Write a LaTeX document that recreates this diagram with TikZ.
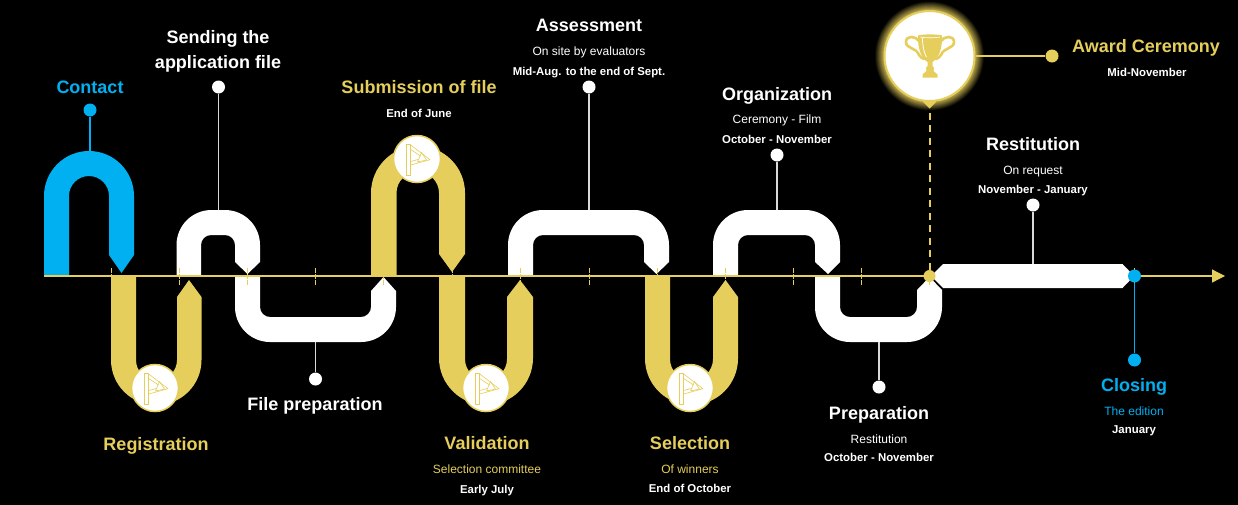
\documentclass[tikz,border=0pt]{standalone}
\usepackage{fontspec}
\setmainfont{Liberation Sans}
\usetikzlibrary{arrows.meta}
\definecolor{gold}{HTML}{E5CE5B}
\definecolor{sky}{HTML}{00B0F0}
\tikzset{
  title/.style={font=\fontsize{18}{20}\selectfont\bfseries,inner sep=0pt,anchor=base,yshift=-6.5pt},
  sub/.style={font=\fontsize{12}{13}\selectfont,inner sep=0pt,text=white,anchor=base,yshift=-4.5pt},
  subb/.style={font=\fontsize{11.4}{13}\selectfont\bfseries,inner sep=0pt,text=white,anchor=base,yshift=-4.2pt},
  dot/.style={circle,inner sep=0pt,minimum size=13pt},
  stem/.style={line width=1.2pt},
  badge/.style={circle,fill=white,draw=gold,line width=1.5pt,minimum size=47pt,inner sep=0pt},
  tick/.style={draw=gold,line width=.8pt,dash pattern=on 5pt off 1pt},
  flagline/.style={draw=gold,line width=.6pt,line join=round,fill=none},
}
% style, x-outer-left, x-inner-left, x-inner-right, x-outer-right, base y, far y, inner y, outer r, inner r, shoulder y, tip y, tip x
\newcommand{\bandshape}[1]{\def\bcol{#1}\bandrest}
\newcommand{\bandrest}[9]{\def\xa{#1}\def\xb{#2}\def\xc{#3}\def\xd{#4}\def\yb{#5}\def\yo{#6}\def\yi{#7}\def\ro{#8}\def\ri{#9}\bandtail}
\newcommand{\bandtail}[3]{%
  \fill[\bcol] (\xa,\yb) [rounded corners=\ro pt] -- (\xa,\yo) -- (\xd,\yo) [sharp corners] -- (\xd,#1) -- (#3,#2) -- (\xc,#1) [rounded corners=\ri pt] -- (\xc,\yi) -- (\xb,\yi) [sharp corners] -- (\xb,\yb) -- cycle;}
\newcommand{\flagicon}[1]{%
  \begin{scope}[shift={(#1)}]
    \draw[flagline] (-10.3,-14.5) rectangle (-6.3,16);
    \draw[flagline] (-6.3,-14) -- (13,0.7) -- (-6.3,6);
    \draw[flagline] (-6.3,-9.5) -- (3.5,-3);
    \draw[flagline] (-6.3,2.5) -- (1,0.5);
    \draw[flagline] (4.5,-6.5) -- (0.5,3) -- (9.5,1) -- cycle;
  \end{scope}}
\begin{document}
\begin{tikzpicture}[x=1pt,y=-1pt]
\useasboundingbox (0,0) rectangle (1238,504);
\fill[black] (-3,-3) rectangle (1241,507);
% axis
\coordinate (axisA) at (44,276);
\coordinate (axisB) at (1225,276);
% bands
\bandshape{sky}{44}{69}{109}{134}{276}{151}{176}{45}{20}{255}{273}{121.5}
\bandshape{gold}{111}{136}{177}{201.5}{276}{405}{380}{45}{20}{297}{280}{189}
\bandshape{white}{176.5}{201}{235}{260}{276}{210}{235}{35}{10}{262}{274}{247.5}
\bandshape{white}{235}{260}{371}{396}{277}{342}{317}{35}{10}{291}{277}{383.5}
\bandshape{gold}{371}{396.5}{439}{465}{276}{146}{172}{47}{21}{254}{272}{452}
\bandshape{gold}{439}{465}{507}{533}{276}{405}{380}{47}{21}{297}{280}{520}
\bandshape{white}{508}{533}{644}{669}{276}{210}{235}{35}{10}{262}{274}{656.5}
\bandshape{gold}{645}{670}{713}{738}{276}{405}{380}{46.5}{21}{297}{280}{725.5}
\bandshape{white}{713}{738}{815}{840}{276}{210}{235}{35}{10}{262}{274}{828}
\bandshape{white}{815}{840}{917}{942}{277}{342}{317}{35}{10}{290}{277}{929.5}
% axis and ticks
\draw[draw=gold,line width=1.2pt,-{Triangle[length=13pt,width=13pt,fill=gold]}] (axisA) -- (axisB);
\foreach \tx in {111.3,179.3,247.5,315.5,383.5,452,520,589,657,725,793,861,929.5,1134.5}
  \draw[tick] (\tx,268) -- (\tx,285.5);
% restitution bar
\fill[white] (931,276) -- (943,264) -- (1122.5,264) -- (1134,276) -- (1122.5,288) -- (943,288) -- cycle;
% anchors on bands
\coordinate (topContact) at (90,151);
\coordinate (topSending) at (218.5,210);
\coordinate (botFile) at (315.5,342);
\coordinate (topAssess) at (589,210);
\coordinate (topOrg) at (777,210);
\coordinate (botPrep) at (879,342);
\coordinate (topRest) at (1033,264);
% dots
\node[dot,fill=sky] (dContact) at (90,110) {};
\node[dot,fill=white] (dSending) at (218.5,87) {};
\node[dot,fill=white] (dFile) at (315.5,379) {};
\node[dot,fill=white] (dAssess) at (589,87) {};
\node[dot,fill=white] (dOrg) at (777,155) {};
\node[dot,fill=white] (dPrep) at (879,387) {};
\node[dot,fill=white] (dRest) at (1033,205) {};
\node[dot,fill=gold] (dAward) at (1052,56) {};
\node[dot,fill=gold,minimum size=12pt] (dAxis) at (929.5,276) {};
\node[dot,fill=sky] (dAxisEnd) at (1134.5,276) {};
\node[dot,fill=sky] (dClosing) at (1134.5,360) {};
% stems
\draw[stem,sky] (dContact) -- (topContact);
\draw[stem,white!85!black] (dSending) -- (topSending);
\draw[stem,white!85!black] (dFile) -- (botFile);
\draw[stem,white!85!black] (dAssess) -- (topAssess);
\draw[stem,white!85!black] (dOrg) -- (topOrg);
\draw[stem,white!85!black] (dPrep) -- (botPrep);
\draw[stem,white!85!black] (dRest) -- (topRest);
\draw[stem,sky] (dAxisEnd) -- (dClosing);
% badges
\node[badge] (bReg) at (155,388) {};
\node[badge] (bSub) at (417,159) {};
\node[badge] (bVal) at (486,388) {};
\node[badge] (bSel) at (690,388) {};
\flagicon{155,388}
\flagicon{417,159}
\flagicon{486,388}
\flagicon{690,388}
% award medallion
\foreach \r in {55,54.5,...,44}{
  \pgfmathsetmacro{\pc}{(55-\r)*9}
  \fill[gold!\pc!black] (929.5,56) circle (\r);
}
\fill[gold] (923,99) -- (936,99) -- (936,102) -- (929.5,108.5) -- (923,102) -- cycle;
\node[circle,fill=white,draw=gold,line width=2pt,minimum size=90pt,inner sep=0pt] (award) at (929.5,56) {};
\coordinate (pin) at (929.5,112.5);
\draw[draw=gold,line width=2pt,dash pattern=on 7pt off 5.5pt] (pin) -- (dAxis);
\draw[draw=gold,line width=1.6pt] (award) -- (dAward);
% trophy
\begin{scope}[shift={(930,0)}]
  \fill[gold] (-12,35.5) .. controls (-6,34) and (6,34) .. (12,35.5) .. controls (12.5,48) and (9,58) .. (2.5,62) -- (2.5,66) -- (4,68) -- (3.5,71) -- (7.5,74.5) -- (7.5,77.5) -- (-7.5,77.5) -- (-7.5,74.5) -- (-3.5,71) -- (-4,68) -- (-2.5,66) -- (-2.5,62) .. controls (-9,58) and (-12.5,48) .. (-12,35.5) -- cycle;
  \draw[white,line width=.8pt] (-7.5,38) .. controls (-7.5,46) and (-6,53) .. (-3.5,57);
  \draw[white,line width=.6pt] (-10,37) .. controls (-5,38) and (5,38) .. (10,37);
  \draw[gold,line width=2.6pt,line cap=round] (-11,41) .. controls (-14,36) and (-24,35) .. (-24,42) .. controls (-24,49) and (-14,47) .. (-11,55) .. controls (-10,57) and (-8,58) .. (-6,59);
  \draw[gold,line width=2.6pt,line cap=round] (11,41) .. controls (14,36) and (24,35) .. (24,42) .. controls (24,49) and (14,47) .. (11,55) .. controls (10,57) and (8,58) .. (6,59);
\end{scope}
% texts
\node[title,text=sky] (tContact) at (90,87) {Contact};
\node[title,text=white] (tSendingA) at (218,37) {Sending the};
\node[title,text=white] (tSendingB) at (218,62) {application file};
\node[title,text=gold] (tSub) at (419,87) {Submission of file};
\node[subb] (tSubB) at (419,113) {End of June};
\node[title,text=white] (tAssess) at (589,25) {Assessment};
\node[sub] (tAssessA) at (589,51) {On site by evaluators};
\node[subb] (tAssessB) at (589,71) {Mid-Aug. to the end of Sept.};
\node[title,text=white] (tOrg) at (777,94) {Organization};
\node[sub] (tOrgA) at (777,119) {Ceremony - Film};
\node[subb] (tOrgB) at (777,139) {October - November};
\node[title,text=gold] (tAward) at (1146,46) {Award Ceremony};
\node[subb] (tAwardB) at (1147,72) {Mid-November};
\node[title,text=white] (tRest) at (1033,144) {Restitution};
\node[sub] (tRestA) at (1033,170) {On request};
\node[subb] (tRestB) at (1033,189) {November - January};
\node[title,text=gold] (tReg) at (156,444) {Registration};
\node[title,text=white] (tFile) at (315,404) {File preparation};
\node[title,text=gold] (tVal) at (487,443) {Validation};
\node[sub,text=gold] (tValA) at (487,469) {Selection committee};
\node[subb] (tValB) at (487,489) {Early July};
\node[title,text=gold] (tSel) at (690,443) {Selection};
\node[sub,text=gold] (tSelA) at (690,469) {Of winners};
\node[subb] (tSelB) at (690,488) {End of October};
\node[title,text=white] (tPrep) at (879,413) {Preparation};
\node[sub] (tPrepA) at (879,439) {Restitution};
\node[subb] (tPrepB) at (879,457) {October - November};
\node[title,text=sky] (tClose) at (1134,385) {Closing};
\node[sub,text=sky] (tCloseA) at (1134,411) {The edition};
\node[subb] (tCloseB) at (1134,429) {January};
\end{tikzpicture}
\end{document}
